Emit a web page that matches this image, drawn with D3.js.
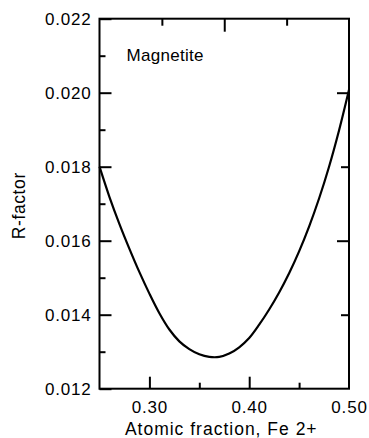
<!DOCTYPE html>
<html>
<head>
<meta charset="utf-8">
<script src="https://cdn.jsdelivr.net/npm/d3@7"></script>
<style>
  html, body { margin: 0; padding: 0; background: #fff; }
  svg { display: block; }
  text { font-family: "Liberation Sans", Arial, Helvetica, sans-serif; fill: #000; }
</style>
</head>
<body>
<svg id="chart" width="369" height="438"></svg>
<script>
// ---- data ----
const xValues = [0.25, 0.26, 0.27, 0.28, 0.29, 0.30, 0.31, 0.32, 0.33, 0.34, 0.35, 0.36, 0.37,
                 0.38, 0.39, 0.40, 0.41, 0.42, 0.43, 0.44, 0.45, 0.46, 0.47, 0.48, 0.49, 0.50];
const rFactor = [0.01800, 0.01718, 0.01645, 0.01578, 0.01515, 0.01457, 0.01404, 0.01360, 0.01328,
                 0.01307, 0.01293, 0.01286, 0.01286, 0.01295, 0.01312, 0.01337, 0.01373, 0.01414,
                 0.01460, 0.01512, 0.01571, 0.01638, 0.01714, 0.01800, 0.01898, 0.02008];
const xLabelTicks = [0.30, 0.40, 0.50];
const xMajorTicks = [0.30, 0.40];
const xMinorTicks = [0.35, 0.45];
const xTopMajorTicks = [0.375];
const xTopMinorTicks = [0.3125, 0.4375];
const yLabelTicks = [0.012, 0.014, 0.016, 0.018, 0.020, 0.022];
const yMinorTicks = [0.013, 0.015, 0.017, 0.019, 0.021];
const yRightLongTicks = [0.016, 0.020];
const yRightShortTicks = [0.014, 0.018];
const seriesLabel = "Magnetite";
const xTitle = "Atomic fraction, Fe 2+";
const yTitle = "R-factor";

// ---- layout ----
const padL = 99.5, padR = 349, padT = 18.7, padB = 388.7;
const svg = d3.select("#chart");
const x = d3.scaleLinear().domain([0.25, 0.50]).range([padL, padR]);
const y = d3.scaleLinear().domain([0.012, 0.022]).range([padB, padT]);

function styleAxis(g) {
  g.select(".domain").remove();
  g.selectAll(".tick line").attr("stroke", "#000").attr("stroke-width", 2);
  g.selectAll(".tick text")
    .attr("font-size", 17)
    .attr("letter-spacing", "0.8px")
    .attr("fill", "#000");
}

// bottom axis
svg.append("g").attr("transform", `translate(0,${padB})`)
  .call(d3.axisBottom(x).tickValues(xLabelTicks).tickSize(0).tickPadding(12).tickFormat(d3.format(".2f")))
  .call(styleAxis);
svg.append("g").attr("transform", `translate(0,${padB})`)
  .call(d3.axisBottom(x).tickValues(xMajorTicks).tickSize(-12).tickFormat(""))
  .call(styleAxis);
svg.append("g").attr("transform", `translate(0,${padB})`)
  .call(d3.axisBottom(x).tickValues(xMinorTicks).tickSize(-6).tickFormat(""))
  .call(styleAxis);
// top axis
svg.append("g").attr("transform", `translate(0,${padT})`)
  .call(d3.axisTop(x).tickValues(xTopMajorTicks).tickSize(-13).tickFormat(""))
  .call(styleAxis);
svg.append("g").attr("transform", `translate(0,${padT})`)
  .call(d3.axisTop(x).tickValues(xTopMinorTicks).tickSize(-7).tickFormat(""))
  .call(styleAxis);
// left axis
svg.append("g").attr("transform", `translate(${padL},0)`)
  .call(d3.axisLeft(y).tickValues(yLabelTicks).tickSize(-12).tickPadding(8).tickFormat(d3.format(".3f")))
  .call(styleAxis);
svg.append("g").attr("transform", `translate(${padL},0)`)
  .call(d3.axisLeft(y).tickValues(yMinorTicks).tickSize(-6).tickFormat(""))
  .call(styleAxis);
// right axis
svg.append("g").attr("transform", `translate(${padR},0)`)
  .call(d3.axisRight(y).tickValues(yRightLongTicks).tickSize(-12).tickFormat(""))
  .call(styleAxis);
svg.append("g").attr("transform", `translate(${padR},0)`)
  .call(d3.axisRight(y).tickValues(yRightShortTicks).tickSize(-8).tickFormat(""))
  .call(styleAxis);

// frame
svg.append("rect")
  .attr("x", padL).attr("y", padT)
  .attr("width", padR - padL).attr("height", padB - padT)
  .attr("fill", "none").attr("stroke", "#000").attr("stroke-width", 2);

// curve
const data = xValues.map((v, i) => ({x: v, y: rFactor[i]}));
svg.append("path")
  .datum(data)
  .attr("fill", "none")
  .attr("stroke", "#000")
  .attr("stroke-width", 2.2)
  .attr("d", d3.line().x(d => x(d.x)).y(d => y(d.y)).curve(d3.curveCatmullRom.alpha(0.5)));

// labels
svg.append("text")
  .attr("x", 126.5).attr("y", 61)
  .attr("font-size", 17).attr("letter-spacing", "0.3px")
  .text(seriesLabel);

svg.append("text")
  .attr("x", (padL + padR) / 2 - 3).attr("y", 435)
  .attr("text-anchor", "middle")
  .attr("font-size", 17.5).attr("letter-spacing", "1px")
  .text(xTitle);

svg.append("text")
  .attr("transform", `translate(25,${(padT + padB) / 2 + 2}) rotate(-90)`)
  .attr("text-anchor", "middle")
  .attr("font-size", 17.5).attr("letter-spacing", "0.6px")
  .text(yTitle);
</script>
</body>
</html>
